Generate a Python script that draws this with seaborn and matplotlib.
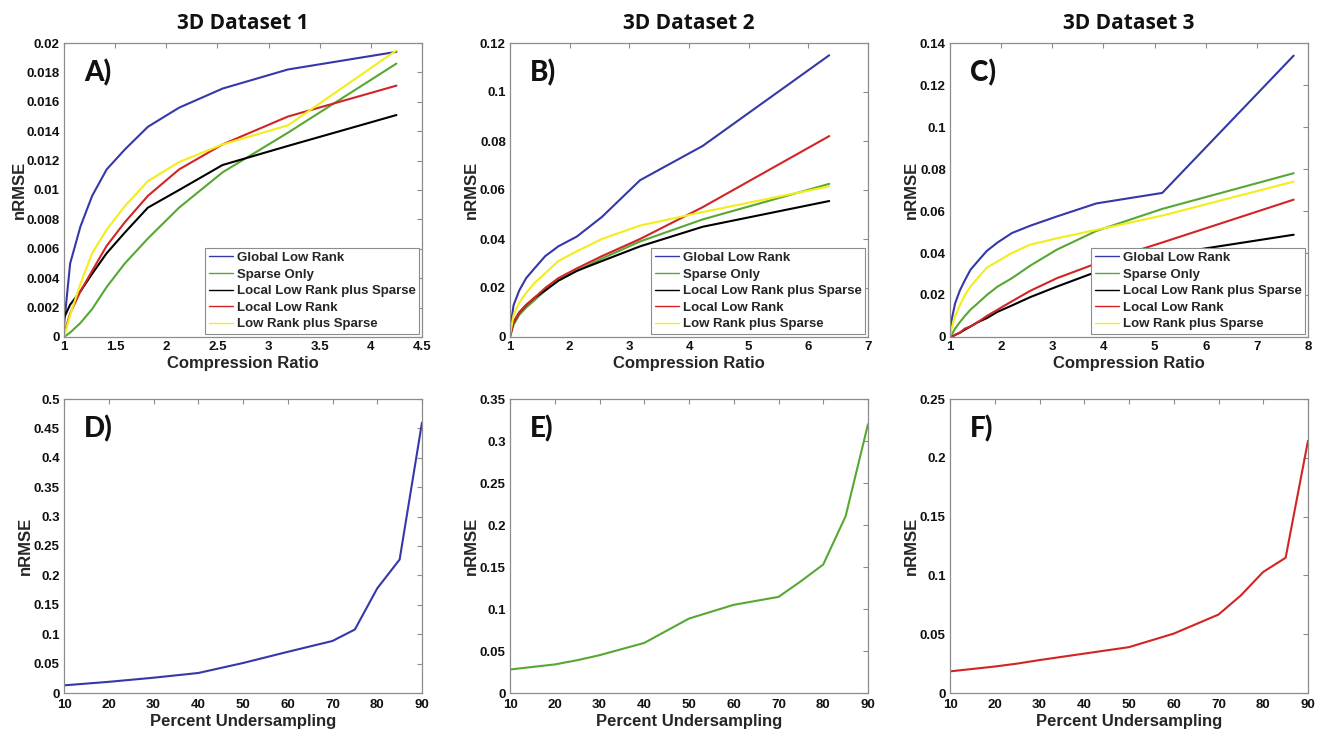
import numpy as np
import pandas as pd
import matplotlib
matplotlib.use("Agg")
import matplotlib.pyplot as plt
from matplotlib.ticker import FuncFormatter, MultipleLocator
import seaborn as sns

# ---------------------------------------------------------------- data
methods = ["Global Low Rank", "Sparse Only", "Local Low Rank plus Sparse",
           "Local Low Rank", "Low Rank plus Sparse"]
colors = ["#3538a8", "#56a833", "#000000", "#d22424", "#f2ee1a"]

# Dataset 1: compression ratio vs nRMSE
cr1 = [1.0, 1.06, 1.16, 1.275, 1.417, 1.594, 1.82, 2.125, 2.55, 3.19, 4.25]
d1_global = [0.0008, 0.0050, 0.0075, 0.0096, 0.0114, 0.01275, 0.0143, 0.0156, 0.0169, 0.0182, 0.0194]
d1_sparse = [0.0, 0.0003, 0.00095, 0.0019, 0.0034, 0.0050, 0.0067, 0.0088, 0.0112, 0.0139, 0.0186]
d1_llr_sp = [0.0013, 0.0022, 0.0031, 0.0043, 0.0057, 0.0071, 0.0088, 0.0100, 0.0117, 0.0130, 0.0151]
d1_llr = [0.0002, 0.0016, 0.0031, 0.0045, 0.0062, 0.0078, 0.0096, 0.0114, 0.0131, 0.0150, 0.0171]
d1_lr_sp = [0.0, 0.0015, 0.0036, 0.0057, 0.0073, 0.0089, 0.0106, 0.0119, 0.0131, 0.0144, 0.0195]

# Dataset 2
cr2 = [1.0, 1.06, 1.155, 1.27, 1.41, 1.59, 1.81, 2.12, 2.54, 3.18, 4.23, 6.35]
d2_global = [0.003, 0.013, 0.019, 0.024, 0.028, 0.033, 0.037, 0.041, 0.049, 0.064, 0.078, 0.115]
d2_sparse = [0.0, 0.005, 0.009, 0.012, 0.015, 0.019, 0.023, 0.027, 0.032, 0.039, 0.048, 0.0625]
d2_llr_sp = [0.001, 0.006, 0.010, 0.013, 0.016, 0.019, 0.023, 0.027, 0.031, 0.037, 0.045, 0.0555]
d2_llr = [0.0, 0.006, 0.010, 0.013, 0.016, 0.020, 0.024, 0.028, 0.033, 0.040, 0.053, 0.082]
d2_lr_sp = [0.001, 0.009, 0.014, 0.018, 0.022, 0.026, 0.031, 0.035, 0.040, 0.0455, 0.051, 0.0615]

# Dataset 3
cr3 = [1.0, 1.03, 1.10, 1.19, 1.29, 1.40, 1.54, 1.72, 1.93, 2.21, 2.57, 3.09, 3.86, 5.15, 7.72]
d3_global = [0.001, 0.008, 0.016, 0.022, 0.027, 0.032, 0.036, 0.041, 0.045, 0.0495, 0.053, 0.0574, 0.0636, 0.0686, 0.134]
d3_sparse = [0.0, 0.001, 0.004, 0.007, 0.010, 0.013, 0.016, 0.020, 0.024, 0.028, 0.034, 0.0416, 0.0505, 0.061, 0.078]
d3_llr_sp = [0.0, 0.0, 0.001, 0.002, 0.0035, 0.005, 0.007, 0.009, 0.012, 0.015, 0.019, 0.024, 0.031, 0.039, 0.0487]
d3_llr = [0.0, 0.0, 0.001, 0.002, 0.004, 0.005, 0.007, 0.010, 0.013, 0.017, 0.022, 0.028, 0.035, 0.045, 0.0654]
d3_lr_sp = [0.0, 0.004, 0.010, 0.015, 0.020, 0.024, 0.028, 0.033, 0.036, 0.040, 0.044, 0.047, 0.051, 0.0578, 0.074]

# Percent undersampling vs nRMSE (one method per dataset)
pct = [10, 20, 25, 30, 40, 50, 60, 70, 75, 80, 85, 90]
d1_under = [0.013, 0.019, 0.0225, 0.026, 0.034, 0.051, 0.070, 0.0885, 0.108, 0.178, 0.227, 0.46]
d2_under = [0.028, 0.034, 0.039, 0.045, 0.0596, 0.0886, 0.105, 0.1144, 0.133, 0.153, 0.2105, 0.32]
d3_under = [0.0184, 0.0225, 0.025, 0.028, 0.0335, 0.039, 0.0505, 0.0667, 0.083, 0.103, 0.115, 0.2145]

titles = ["3D Dataset 1", "3D Dataset 2", "3D Dataset 3"]
top_letters = ["A)", "B)", "C)"]
bottom_letters = ["D)", "E)", "F)"]

# ---------------------------------------------------------------- style
sns.set_theme(style="white")
plt.rcParams["font.family"] = ["Liberation Sans", "DejaVu Sans"]
plt.rcParams["font.weight"] = "bold"
plt.rcParams["axes.labelweight"] = "bold"

SPINE = "#8c8c8c"
fmt = FuncFormatter(lambda v, p: "%g" % round(v, 6))


def style_axes(ax, xlim, xstep, ylim, ystep, xpad=3):
    ax.set_xlim(*xlim)
    ax.set_ylim(*ylim)
    ax.xaxis.set_major_locator(MultipleLocator(xstep))
    ax.yaxis.set_major_locator(MultipleLocator(ystep))
    ax.xaxis.set_major_formatter(fmt)
    ax.yaxis.set_major_formatter(fmt)
    ax.tick_params(direction="in", length=3.5, width=0.8, color=SPINE,
                   top=True, right=True, labelsize=9.5, pad=3,
                   labelcolor="#111111")
    ax.tick_params(axis="x", pad=xpad)
    for lab in ax.get_xticklabels() + ax.get_yticklabels():
        lab.set_fontweight("bold")
    for s in ax.spines.values():
        s.set_color(SPINE)
        s.set_linewidth(0.9)
    ax.grid(False)


def panel_letter(ax, txt):
    ax.text(0.056, 0.868, txt, transform=ax.transAxes, ha="left", va="baseline",
            fontsize=20, fontweight="black", family=["Lato", "Open Sans", "DejaVu Sans"],
            color="#111111")


W, H = 1331, 730
fig = plt.figure(figsize=(W / 100, H / 100), dpi=100)
lefts = [64, 510, 950]
aw = 358
ah = 294
top_y = 43
bot_y = 399

top_sets = [
    (cr1, [d1_global, d1_sparse, d1_llr_sp, d1_llr, d1_lr_sp], (1, 4.5), 0.5, (0, 0.02), 0.002),
    (cr2, [d2_global, d2_sparse, d2_llr_sp, d2_llr, d2_lr_sp], (1, 7), 1, (0, 0.12), 0.02),
    (cr3, [d3_global, d3_sparse, d3_llr_sp, d3_llr, d3_lr_sp], (1, 8), 1, (0, 0.14), 0.02),
]
bottom_sets = [
    (d1_under, colors[0], (0, 0.5)),
    (d2_under, colors[1], (0, 0.35)),
    (d3_under, colors[3], (0, 0.25)),
]
ylabel_x = [-0.103, -0.088, -0.088]
ylabel_x_bottom = [-0.088, -0.088, -0.088]

for i in range(3):
    # top row: compression ratio curves
    ax = fig.add_axes([lefts[i] / W, 1 - (top_y + ah) / H, aw / W, ah / H])
    cr, series, xlim, xs, ylim, ys = top_sets[i]
    df = pd.DataFrame({
        "Compression Ratio": np.tile(cr, len(methods)),
        "nRMSE": np.concatenate(series),
        "method": np.repeat(methods, len(cr)),
    })
    sns.lineplot(data=df, x="Compression Ratio", y="nRMSE", hue="method",
                 hue_order=methods, palette=colors, linewidth=1.5, ax=ax,
                 sort=False, estimator=None)
    style_axes(ax, xlim, xs, ylim, ys)
    ax.set_xlabel("Compression Ratio", fontsize=12, fontweight="bold", labelpad=2)
    ax.set_ylabel("nRMSE", fontsize=12, fontweight="bold")
    ax.yaxis.set_label_coords(ylabel_x[i], 0.5)
    ax.set_title(titles[i], fontsize=15, fontweight="bold",
                 family=["Open Sans", "DejaVu Sans"], pad=10, color="#111111")
    panel_letter(ax, top_letters[i])
    handles, labels = ax.get_legend_handles_labels()
    for h in handles:
        h.set_linewidth(1.0)
    leg = ax.legend(handles, labels, loc="lower right",
                    frameon=True, fancybox=False, edgecolor=SPINE,
                    framealpha=1, borderpad=0.3, labelspacing=0.33,
                    handlelength=1.8, handletextpad=0.3, borderaxespad=0.2,
                    prop={"weight": "bold", "size": 9.5})
    leg.get_frame().set_linewidth(0.8)

    # bottom row: percent undersampling curves
    ax2 = fig.add_axes([lefts[i] / W, 1 - (bot_y + ah) / H, aw / W, ah / H])
    vals, col, ylim2 = bottom_sets[i]
    df2 = pd.DataFrame({"Percent Undersampling": pct, "nRMSE": vals})
    sns.lineplot(data=df2, x="Percent Undersampling", y="nRMSE", color=col,
                 linewidth=1.5, ax=ax2)
    style_axes(ax2, (10, 90), 10, ylim2, 0.05, xpad=4.2)
    ax2.set_xlabel("Percent Undersampling", fontsize=12, fontweight="bold", labelpad=2)
    ax2.set_ylabel("nRMSE", fontsize=12, fontweight="bold")
    ax2.yaxis.set_label_coords(ylabel_x_bottom[i], 0.5)
    panel_letter(ax2, bottom_letters[i])

fig.savefig("out.png", dpi=100, facecolor="white")
